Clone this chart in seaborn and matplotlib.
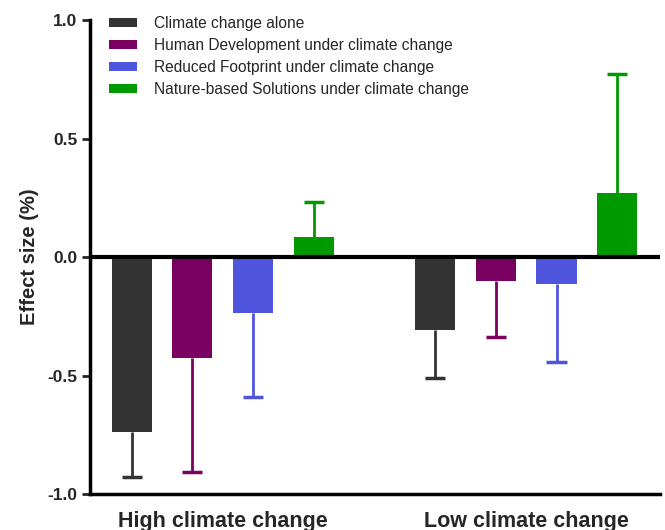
import pandas as pd
import numpy as np
import matplotlib
matplotlib.use('Agg')
import matplotlib.pyplot as plt
import seaborn as sns

# Data
GROUPS = ['High climate change', 'Low climate change']
TREATMENTS = ['Climate change alone',
              'Human Development under climate change',
              'Reduced Footprint under climate change',
              'Nature-based Solutions under climate change']
COLORS = ['#333333', '#7a0062', '#5055de', '#009a00']

climate_alone = [-0.738, -0.308]
human_dev = [-0.426, -0.101]
reduced_fp = [-0.236, -0.114]
nature_based = [0.084, 0.272]

err_climate_alone = [0.190, 0.202]
err_human_dev = [0.481, 0.237]
err_reduced_fp = [0.353, 0.329]
err_nature_based = [0.148, 0.500]

means = [climate_alone, human_dev, reduced_fp, nature_based]
errors = [err_climate_alone, err_human_dev, err_reduced_fp, err_nature_based]

rows = []
for t, vals, errs in zip(TREATMENTS, means, errors):
    for g, v, e in zip(GROUPS, vals, errs):
        rows.append({'group': g, 'treatment': t, 'effect': v, 'err': e})
df = pd.DataFrame(rows)

sns.set_style('white')
plt.rcParams['font.family'] = ['Liberation Sans', 'DejaVu Sans']

fig = plt.figure(figsize=(6.65, 5.3), dpi=100)
ax = fig.add_axes([0.135, 0.068, 0.857, 0.894])

sns.barplot(data=df, x='group', y='effect', hue='treatment',
            order=GROUPS, hue_order=TREATMENTS, palette=COLORS,
            saturation=1, width=0.8, gap=0.34, errorbar=None,
            linewidth=0, edgecolor='none', ax=ax, zorder=3)

# one-sided error bars, pointing away from zero
cap = 0.033
bar_containers = list(ax.containers)
for t, color, container in zip(TREATMENTS, COLORS, bar_containers):
    sub = df[df['treatment'] == t].set_index('group').loc[GROUPS]
    for bar, (_, r) in zip(container, sub.iterrows()):
        xc = bar.get_x() + bar.get_width() / 2
        end = r['effect'] + np.sign(r['effect']) * r['err']
        ax.vlines(xc, r['effect'], end, color=color, lw=2, zorder=2)
        ax.hlines(end, xc - cap, xc + cap, color=color, lw=2.5, zorder=2)

ax.axhline(0, color='black', lw=3, zorder=4)

ax.set_ylim(-1.0, 1.0)
ax.set_xlim(-0.438, 1.44)
ax.set_yticks([-1.0, -0.5, 0.0, 0.5, 1.0])
ax.set_yticklabels(['-1.0', '-0.5', '0.0', '0.5', '1.0'],
                   fontsize=12.5, fontweight='bold')
ax.set_xticks([0, 1])
ax.set_xticklabels(GROUPS, fontsize=15.5, fontweight='bold')
ax.tick_params(axis='y', left=True, length=6, width=2, pad=3)
ax.tick_params(axis='x', bottom=False, pad=9)
ax.set_xlabel('')
ax.set_ylabel('Effect size (%)', fontsize=14.5, fontweight='bold', labelpad=6)

for side in ['top', 'right']:
    ax.spines[side].set_visible(False)
for side in ['left', 'bottom']:
    ax.spines[side].set_linewidth(2.5)
    ax.spines[side].set_color('black')

leg = ax.legend(loc='upper left', bbox_to_anchor=(0.022, 1.022), frameon=False,
                fontsize=11.2, handlelength=1.8, handleheight=0.5,
                labelspacing=0.45, handletextpad=1.1, borderaxespad=0)

fig.savefig('out.png', dpi=100)
